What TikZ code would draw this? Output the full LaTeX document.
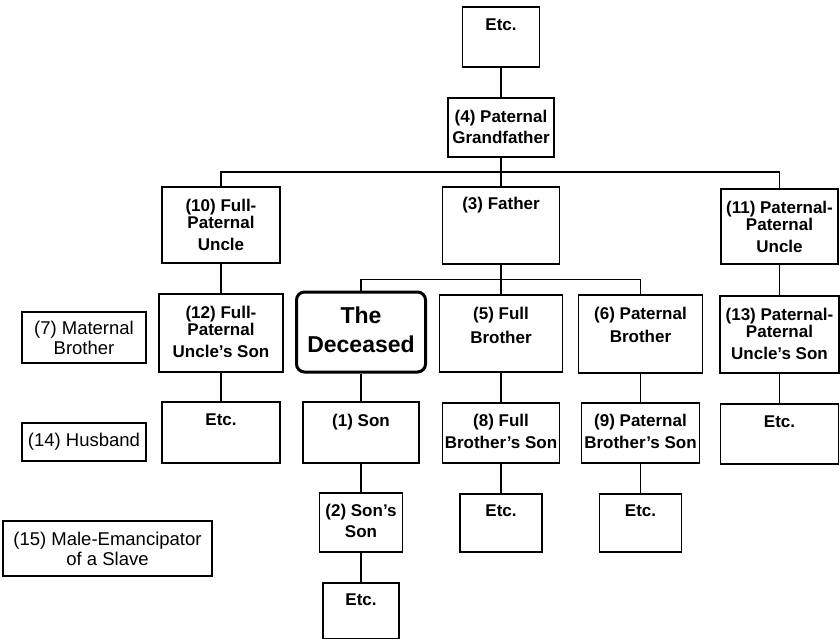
\documentclass[tikz,border=0pt]{standalone}
\usepackage{fontspec}
\setmainfont{Liberation Sans}
\usetikzlibrary{calc}

\tikzset{
  kin/.style={draw, line width=1.2pt, inner sep=0pt},
  kintxt/.style={anchor=north, inner sep=0pt, yshift=-12.5pt, align=center,
    font=\bfseries\fontsize{17}{22}\selectfont},
  dead/.style={draw, line width=3pt, rounded corners=8pt, inner sep=0pt},
  deadtxt/.style={anchor=north, inner sep=0pt, yshift=-16.5pt, align=center,
    font=\bfseries\fontsize{23}{29}\selectfont},
  side/.style={draw, line width=1.2pt, inner sep=0pt, align=center,
    font=\fontsize{18.5}{20}\selectfont},
  conn/.style={line width=1.2pt}
}

\begin{document}
\begin{tikzpicture}[x=1pt, y=-1pt]
    \useasboundingbox (0,0) rectangle (840,640);

                % paternal line upwards
                \node[kin, minimum width=77pt, minimum height=60pt, label={[kintxt]north:Etc.}] (etc0) at (501,37) {};
                \node[kin, minimum width=106pt, minimum height=59pt, label={[kintxt]north:{(4) Paternal\\[-1pt]Grandfather}}] (gf) at (501,127.5) {};

                % second row
                \node[kin, minimum width=118pt, minimum height=76pt, label={[kintxt]north:{(10) Full-\\[-5pt]Paternal\\Uncle}}] (u10) at (221,225) {};
                \node[kin, minimum width=117pt, minimum height=77pt, label={[kintxt,yshift=2pt]north:(3) Father}] (fa) at (501,225.5) {};
                \node[kin, minimum width=117pt, minimum height=75pt, label={[kintxt]north:{(11) Paternal-\\[-5pt]Paternal\\Uncle}}] (u11) at (779.5,226.5) {};

                % row of the deceased
                \node[side, minimum width=124pt, minimum height=51pt] (m7) at (84,337.5) {(7) Maternal\\Brother};
                \node[kin, minimum width=124pt, minimum height=78pt, label={[kintxt]north:{(12) Full-\\[-5pt]Paternal\\Uncle's Son}}] (s12) at (221,333) {};
                \node[dead, minimum width=129pt, minimum height=80pt, label={[deadtxt]north:{The\\Deceased}}] (dec) at (361,332) {};
                \node[kin, minimum width=123pt, minimum height=77pt, label={[kintxt]north:{(5) Full\\[2pt]Brother}}] (b5) at (501,333.5) {};
                \node[kin, minimum width=124pt, minimum height=78pt, label={[kintxt]north:{(6) Paternal\\[1pt]Brother}}] (b6) at (640.5,334) {};
                \node[kin, minimum width=119pt, minimum height=77pt, label={[kintxt]north:{(13) Paternal-\\[-5pt]Paternal\\Uncle's Son}}] (s13) at (779.5,334.5) {};

                % sons row
                \node[side, minimum width=124pt, minimum height=38pt] (h14) at (84,442) {(14) Husband};
                \node[kin, minimum width=118pt, minimum height=61pt, label={[kintxt]north:Etc.}] (e12) at (221,432.5) {};
                \node[kin, minimum width=116pt, minimum height=61pt, label={[kintxt]north:(1) Son}] (son) at (361,432.5) {};
                \node[kin, minimum width=117pt, minimum height=60pt, label={[kintxt,yshift=1pt]north:{(8) Full\\Brother's Son}}] (b8s) at (501,433) {};
                \node[kin, minimum width=118pt, minimum height=60pt, label={[kintxt,yshift=1pt]north:{(9) Paternal\\Brother's Son}}] (b9s) at (640.5,433) {};
                \node[kin, minimum width=118pt, minimum height=60pt, label={[kintxt]north:Etc.}] (e13) at (779.5,434) {};

                % grandsons row
                \node[side, minimum width=209pt, minimum height=55pt] (e15) at (107.5,548.5) {(15) Male-Emancipator\\of a Slave};
                \node[kin, minimum width=83pt, minimum height=59pt, label={[kintxt,yshift=1pt]north:{(2) Son's\\[-1pt]Son}}] (ss) at (361,522.5) {};
                \node[kin, minimum width=82pt, minimum height=58pt, label={[kintxt,yshift=1pt]north:Etc.}] (e8) at (501,523) {};
                \node[kin, minimum width=82pt, minimum height=58pt, label={[kintxt,yshift=1pt]north:Etc.}] (e9) at (640.5,523) {};
                \node[kin, minimum width=76pt, minimum height=55.5pt, label={[kintxt,yshift=1pt]north:Etc.}] (e2) at (361,610.75) {};

                \draw[conn] (etc0) -- (gf);
                \draw[conn] (gf) -- (fa);
                \draw[conn] (u10.north) |- ($(gf.south)!.5!(fa.north)$) -| (u11.north);
                \draw[conn] (fa) -- (b5);
                \draw[conn] (dec.north) |- ($(fa.south)!.5!(b5.north)$) -| (b6.north);
                \draw[conn] (u10) -- (s12);
                \draw[conn] (s12) -- (e12);
                \draw[conn] (u11) -- (s13);
                \draw[conn] (s13) -- (e13);
                \draw[conn] (dec) -- (son);
                \draw[conn] (son) -- (ss);
                \draw[conn] (ss) -- (e2);
                \draw[conn] (b5) -- (b8s);
                \draw[conn] (b8s) -- (e8);
                \draw[conn] (b6) -- (b9s);
                \draw[conn] (b9s) -- (e9);

            \end{tikzpicture}
\end{document}
